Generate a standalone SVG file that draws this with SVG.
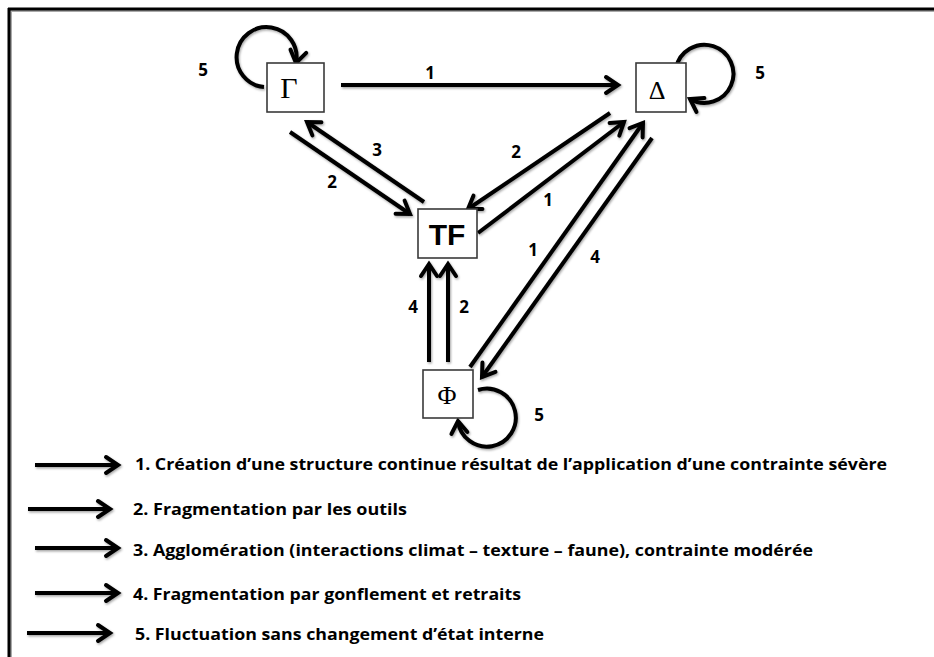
<svg xmlns="http://www.w3.org/2000/svg" width="934" height="657" viewBox="0 0 934 657">
<style>
.box{fill:#fff;stroke:#3a3a3a;stroke-width:1.6}
.c{fill:none;stroke:#000;stroke-width:4;marker-end:url(#ah)}
.sym{font-family:"Liberation Serif","DejaVu Serif",serif;text-anchor:middle;fill:#000}
.lab{font-family:"Open Sans","Liberation Sans",Arial,sans-serif;font-weight:bold;font-size:17px;text-anchor:middle;fill:#000}
.leg{font-family:"Open Sans","Liberation Sans",Arial,sans-serif;font-weight:bold;font-size:16px;fill:#000}
</style>
<defs>
<marker id="ah" markerUnits="userSpaceOnUse" viewBox="-14 -10 17 20" refX="0" refY="0" markerWidth="17" markerHeight="20" orient="auto" overflow="visible">
<path d="M-12,-8 L0,0 L-12,8" fill="none" stroke="#000" stroke-width="4" stroke-linejoin="miter" stroke-linecap="round"/>
</marker>
<filter id="sh" x="-10%" y="-10%" width="120%" height="120%">
<feDropShadow dx="1" dy="1.5" stdDeviation="1" flood-color="#000" flood-opacity="0.35"/>
</filter>
</defs>
<rect width="934" height="657" fill="#fff"/>
<g id="frame">
<line x1="9" y1="11" x2="934" y2="11" stroke="#aaa" stroke-width="2"/>
<line x1="11" y1="9" x2="11" y2="657" stroke="#aaa" stroke-width="2"/>
<line x1="8" y1="9" x2="934" y2="9" stroke="#000" stroke-width="3"/>
<line x1="9" y1="8" x2="9" y2="657" stroke="#000" stroke-width="3"/>
</g>
<g id="connectors" filter="url(#sh)">
<line class="c" x1="341" y1="85" x2="618" y2="85"/>
<line class="c" x1="290" y1="132" x2="410" y2="214"/>
<line class="c" x1="424" y1="202" x2="307" y2="122"/>
<line class="c" x1="610" y1="113" x2="468" y2="209"/>
<line class="c" x1="478" y1="233" x2="624" y2="122"/>
<line class="c" x1="470" y1="367" x2="643" y2="123"/>
<line class="c" x1="652" y1="138" x2="482" y2="377"/>
<line class="c" x1="429" y1="362" x2="429" y2="264"/>
<line class="c" x1="448" y1="362" x2="448" y2="264"/>
<path class="c" d="M264,87 A30,30 0 1 1 296,63"/>
<path class="c" d="M676,68 A29,29 0 1 1 690,99"/>
<path class="c" d="M478,390 A29,29 0 1 1 458,421"/>
</g>
<g id="node-gamma">
<rect class="box" x="267" y="63" width="57" height="49"/>
<text class="sym" x="289" y="98" font-size="30">Γ</text>
</g>
<g id="node-delta">
<rect class="box" x="636" y="63" width="50" height="49"/>
<text class="sym" x="657" y="99" font-size="26">Δ</text>
</g>
<g id="node-tf">
<rect class="box" x="418" y="209" width="59" height="49"/>
<text x="447" y="245" font-family="Liberation Sans,Arial,sans-serif" font-weight="bold" font-size="30" text-anchor="middle">TF</text>
</g>
<g id="node-phi">
<rect class="box" x="423" y="370" width="50" height="48"/>
<text class="sym" x="447" y="404" font-size="26">Φ</text>
</g>
<g id="labels">
<text class="lab" x="203" y="76">5</text>
<text class="lab" x="430" y="79">1</text>
<text class="lab" x="760" y="79">5</text>
<text class="lab" x="377" y="156">3</text>
<text class="lab" x="332" y="188">2</text>
<text class="lab" x="516" y="158">2</text>
<text class="lab" x="548" y="206">1</text>
<text class="lab" x="533" y="256">1</text>
<text class="lab" x="595" y="263">4</text>
<text class="lab" x="413" y="313">4</text>
<text class="lab" x="464" y="313">2</text>
<text class="lab" x="539" y="421">5</text>
</g>
<g id="legend">
<g filter="url(#sh)">
<line class="c" x1="35" y1="465" x2="118" y2="465"/>
<line class="c" x1="28" y1="509" x2="110" y2="509"/>
<line class="c" x1="35" y1="548" x2="118" y2="548"/>
<line class="c" x1="35" y1="593" x2="118" y2="593"/>
<line class="c" x1="27" y1="633" x2="110" y2="633"/>
</g>
<text class="leg" x="135" y="470" textLength="752" lengthAdjust="spacingAndGlyphs">1. Création d’une structure continue résultat de l’application d’une contrainte  sévère</text>
<text class="leg" x="133" y="515" textLength="274" lengthAdjust="spacingAndGlyphs">2. Fragmentation par les outils</text>
<text class="leg" x="133" y="556" textLength="680" lengthAdjust="spacingAndGlyphs">3. Agglomération (interactions climat – texture – faune), contrainte modérée</text>
<text class="leg" x="133" y="600" textLength="388" lengthAdjust="spacingAndGlyphs">4. Fragmentation par gonflement et retraits</text>
<text class="leg" x="135" y="640" textLength="409" lengthAdjust="spacingAndGlyphs">5. Fluctuation sans changement d’état interne</text>
</g>
</svg>
